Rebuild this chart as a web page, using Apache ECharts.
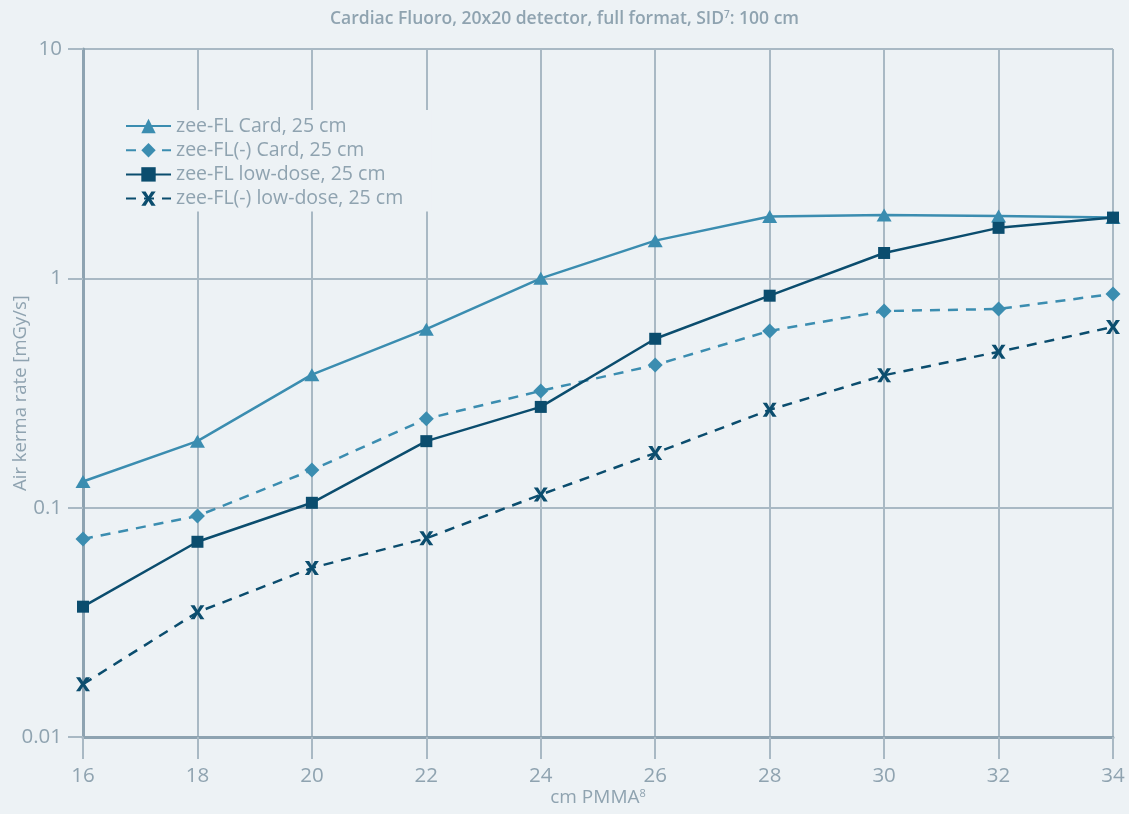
<!DOCTYPE html>
<html>
<head>
<meta charset="utf-8">
<script src="https://cdn.jsdelivr.net/npm/echarts@6/dist/echarts.min.js"></script>
<style>
html,body{margin:0;padding:0;background:#edf2f5;}
#chart{width:1129px;height:814px;}
</style>
</head>
<body>
<div id="chart"></div>
<script>
const xValues = [16, 18, 20, 22, 24, 26, 28, 30, 32, 34];
const cardFL = [0.13, 0.195, 0.38, 0.60, 1.0, 1.46, 1.86, 1.89, 1.87, 1.84];
const cardFLMinus = [0.073, 0.092, 0.146, 0.244, 0.323, 0.419, 0.59, 0.72, 0.735, 0.855];
const lowDoseFL = [0.037, 0.071, 0.105, 0.195, 0.275, 0.545, 0.84, 1.29, 1.66, 1.84];
const lowDoseFLMinus = [0.017, 0.035, 0.0546, 0.0735, 0.114, 0.173, 0.267, 0.378, 0.478, 0.614];
const seriesNames = ['zee-FL Card, 25 cm', 'zee-FL(-) Card, 25 cm', 'zee-FL low-dose, 25 cm', 'zee-FL(-) low-dose, 25 cm'];
const yTicks = [0.01, 0.1, 1, 10];

const LIGHT = '#3b8db0';
const DARK = '#0b4d6e';
const TXT = '#8fa3b0';
const AXIS = '#8ea3b1';
const GRID = '#a9b9c4';
const BG = '#edf2f5';
const FONT = '"Open Sans", "Noto Sans", sans-serif';
const xPath = 'path://M0,0 L3.6,0 L6,4 L8.4,0 L12,0 L7.8,6 L12,12 L8.4,12 L6,8 L3.6,12 L0,12 L4.2,6 Z';

function pairs(arr){ return xValues.map((x,i)=>[x, arr[i]]); }

const chart = echarts.init(document.getElementById('chart'), null, {renderer:'canvas'});
chart.setOption({
  backgroundColor: BG,
  animation: false,
  title: {
    text: 'Cardiac Fluoro, 20x20 detector, full format, SID{sup|7}: 100 cm',
    left: 'center',
    top: 5,
    textStyle: {
      fontFamily: FONT, fontSize: 17.5, fontWeight: 600, color: TXT,
      rich: { sup: { fontFamily: FONT, fontSize: 10, fontWeight: 600, color: TXT, verticalAlign: 'top', padding:[0,0,8,0] } }
    }
  },
  legend: {
    orient: 'vertical',
    left: 110,
    top: 110,
    padding: [6, 28, 3, 15],
    backgroundColor: BG,
    itemWidth: 45,
    itemHeight: 18,
    itemGap: 4.2,
    data: seriesNames,
    textStyle: { fontFamily: FONT, fontSize: 19.5, color: TXT, lineHeight: 18 }
  },
  grid: { left: 83, right: 16, top: 49, bottom: 77, containLabel: false, outerBoundsMode: 'none' },
  xAxis: {
    type: 'value',
    min: 16, max: 34, interval: 2,
    name: 'cm PMMA{sup|8}',
    nameLocation: 'middle',
    nameGap: 51,
    nameMoveOverlap: false,
    nameTextStyle: {
      fontFamily: FONT, fontSize: 19, color: TXT,
      rich: { sup: { fontFamily: FONT, fontSize: 11, color: TXT, verticalAlign:'top', padding:[0,0,9,0] } }
    },
    axisLine: { show: true, lineStyle: { color: AXIS, width: 3 } },
    axisTick: { show: true, inside: false, length: 22, lineStyle: { color: GRID, width: 2 } },
    axisLabel: { margin: 29, fontFamily: FONT, fontSize: 20.5, color: TXT },
    splitLine: { show: true, lineStyle: { color: GRID, width: 2 } }
  },
  yAxis: {
    type: 'log',
    logBase: 10,
    min: yTicks[0], max: yTicks[yTicks.length-1],
    name: 'Air kerma rate [mGy/s]',
    nameLocation: 'middle',
    nameGap: 53,
    nameMoveOverlap: false,
    nameTextStyle: { fontFamily: FONT, fontSize: 18.5, color: TXT },
    axisLine: { show: true, lineStyle: { color: AXIS, width: 3 } },
    axisTick: { show: true, inside: false, length: 15, lineStyle: { color: GRID, width: 2 } },
    axisLabel: {
      margin: 21, fontFamily: FONT, fontSize: 20.5, color: TXT,
      formatter: function(v){ return String(+v.toPrecision(3)); }
    },
    splitLine: { show: true, lineStyle: { color: GRID, width: 2 } }
  },
  series: [
    {
      name: seriesNames[0], type: 'line', data: pairs(cardFL),
      symbol: 'triangle', symbolSize: [15, 13],
      lineStyle: { color: LIGHT, width: 2.5, type: 'solid' },
      itemStyle: { color: LIGHT }, z: 3
    },
    {
      name: seriesNames[1], type: 'line', data: pairs(cardFLMinus),
      symbol: 'diamond', symbolSize: 15,
      lineStyle: { color: LIGHT, width: 2.5, type: [10, 8] },
      itemStyle: { color: LIGHT }, z: 2
    },
    {
      name: seriesNames[2], type: 'line', data: pairs(lowDoseFL),
      symbol: 'rect', symbolSize: 12,
      lineStyle: { color: DARK, width: 2.5, type: 'solid' },
      itemStyle: { color: DARK }, z: 4
    },
    {
      name: seriesNames[3], type: 'line', data: pairs(lowDoseFLMinus),
      symbol: xPath, symbolSize: 14,
      lineStyle: { color: DARK, width: 2.5, type: [10, 8] },
      itemStyle: { color: DARK }, z: 2
    }
  ]
});
</script>
</body>
</html>
